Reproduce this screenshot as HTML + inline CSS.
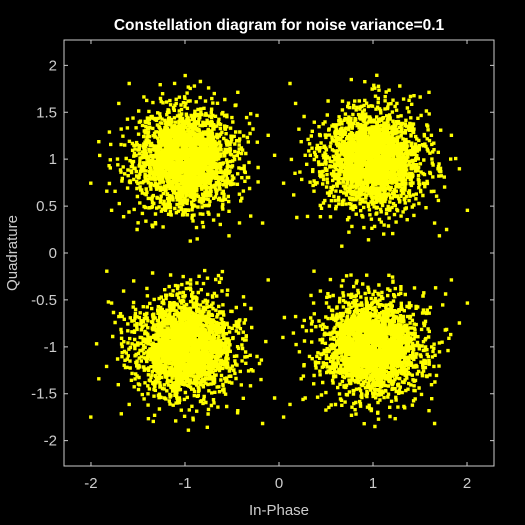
<!DOCTYPE html>
<html><head><meta charset="utf-8"><style>
html,body{margin:0;padding:0;background:#000;}
svg{display:block;font-family:"Liberation Sans",sans-serif;}
</style></head><body>
<svg id="chart" width="525" height="525">
<rect width="525" height="525" fill="#000"/>
<g id="pts"></g>
<g id="axes"></g>
<text x="279" y="30" fill="#fff" font-size="15.5" font-weight="bold" text-anchor="middle">Constellation diagram for noise variance=0.1</text>
<text x="279" y="515" fill="#ccc" font-size="15" text-anchor="middle">In-Phase</text>
<text x="0" y="0" fill="#ccc" font-size="15" text-anchor="middle" transform="translate(17,253) rotate(-90)">Quadrature</text>
</svg>
<script>
const xTicks=[-2,-1,0,1,2];
const yTicks=[-2,-1.5,-1,-0.5,0,0.5,1,1.5,2];
const centersX=[-1,1,-1,1];
const centersY=[1,1,-1,-1];
const noiseX=[12,-8,31,-22,5,-40,18,-3,27,-15,44,-9,2,-28,36,-51,9,-17,21,-6,14,-33,0,48,-12,25,-37,7,-19,30,-2,16,-45,11,-24,38,-7,3,-30,22,-14,58,-11,6,-26,19,-35,28,-1,13,-20,33,-4,41,-16,8,-29,24,-10,1,-42,35,-18,15,-5,26,-38,10,-23,50,-13,4,-31,20,-8,17,-47,32,-2,9,-21,39,-15,6,-27,23,-11,62,-34,14,-3,29,-19,5,-40,18,-9,45,-25,11,-6,34,-16,2,-32,27,-13,21,-1,-55,37,-22,7,15,-28,43,-10,3,-36,24,-17,12,-4,31,-44,19,-7,26,-14,8,-30,53,-20,1,-12,36,-25,16,-39,10,-5,22,-18,28,-8,-65,47,-33,13,4];
const noiseY=[-5,22,-31,14,40,-12,3,-26,18,-44,9,33,-17,27,-8,11,-38,6,-21,46,-2,15,-29,24,-13,35,-50,7,19,-10,28,-36,1,-16,42,-23,12,-7,30,-41,20,4,-27,55,-11,16,-33,8,-19,37,-3,-24,13,-46,25,-14,32,-6,10,-35,21,-1,39,-18,6,-28,17,-9,48,-22,29,-4,-37,14,-12,23,-30,2,34,-15,43,-25,11,-8,26,-40,5,-20,18,-58,31,-3,-13,36,-24,9,-32,19,-6,27,-45,15,-10,3,41,-17,22,-28,8,-2,52,-34,13,-19,30,-9,-39,24,-14,6,33,-21,1,-26,17,-11,44,-5,-31,20,-16,38,-7,12,-43,25,-1,-23,9,16,-36,29,-12,4,61,-27,-18,7];
const outlierX=[-108,-92,85,97,-70,74,-60,112,-83,66,-98,90,-118,55,-77,104];
const outlierY=[22,-64,38,-80,95,-12,-88,5,70,84,-40,55,-30,-96,-72,30];
const L=64,R=494,T=40,B=466;
const xMin=-2.287,xMax=2.287,yMin=-2.27,yMax=2.27;
const sx=v=>L+(v-xMin)/(xMax-xMin)*(R-L);
const sy=v=>B-(v-yMin)/(yMax-yMin)*(B-T);
const NS="http://www.w3.org/2000/svg";
const pts=document.getElementById('pts');
const n=Math.min(noiseX.length,noiseY.length);
const SCALES=[1.2,0.75];
let d='';
function addPt(x,y){const px=sx(x),py=sy(y);d+='M'+(px-1.6).toFixed(1)+' '+(py-1.6).toFixed(1)+'h3.4v3.4h-3.4z';}
for(let c=0;c<centersX.length;c++){
  SCALES.forEach((S,si)=>{
    for(let k=0;k<8;k++){
      const ang=k*Math.PI/4+c*0.37+0.2+si*0.39;
      const ca=Math.cos(ang),sa=Math.sin(ang);
      for(let i=0;i<n;i++){
        const j=(i+k*17+c*29+si*11)%n;
        const a=noiseX[i]/100*S,b=noiseY[j]/100*S;
        addPt(centersX[c]+ca*a-sa*b, centersY[c]+sa*a+ca*b);
      }
    }
  });
  for(let i=0;i<outlierX.length;i++){
    const j=(i+c*5)%outlierY.length;
    const f=(c%2?-1:1);
    addPt(centersX[c]+f*outlierX[i]/100*0.85, centersY[c]+outlierY[j]/100*0.85);
  }
}
const path=document.createElementNS(NS,'path');
path.setAttribute('d',d);
path.setAttribute('fill','#ffff00');


pts.appendChild(path);
const ax=document.getElementById('axes');
function el(tag,attrs){const e=document.createElementNS(NS,tag);for(const k in attrs)e.setAttribute(k,attrs[k]);ax.appendChild(e);return e;}
const box=el('rect',{x:L,y:T,width:R-L,height:B-T,fill:'none',stroke:'#ccc','stroke-width':1});


xTicks.forEach(v=>{
  const x=sx(v);
  const t1=el('path',{d:`M${x} ${B}v-4M${x} ${T}v4`,stroke:'#ccc'});
  
  
  const lb=el('text',{x:x,y:B+22,fill:'#ccc','font-size':15,'text-anchor':'middle'});
  lb.textContent=String(v);
  
  
});
yTicks.forEach(v=>{
  const y=sy(v);
  const t1=el('path',{d:`M${L} ${y}h4M${R} ${y}h-4`,stroke:'#ccc'});
  
  
  const lb=el('text',{x:L-7,y:y+5,fill:'#ccc','font-size':15,'text-anchor':'end'});
  lb.textContent=String(v);
  
  
});
</script>
</body></html>
